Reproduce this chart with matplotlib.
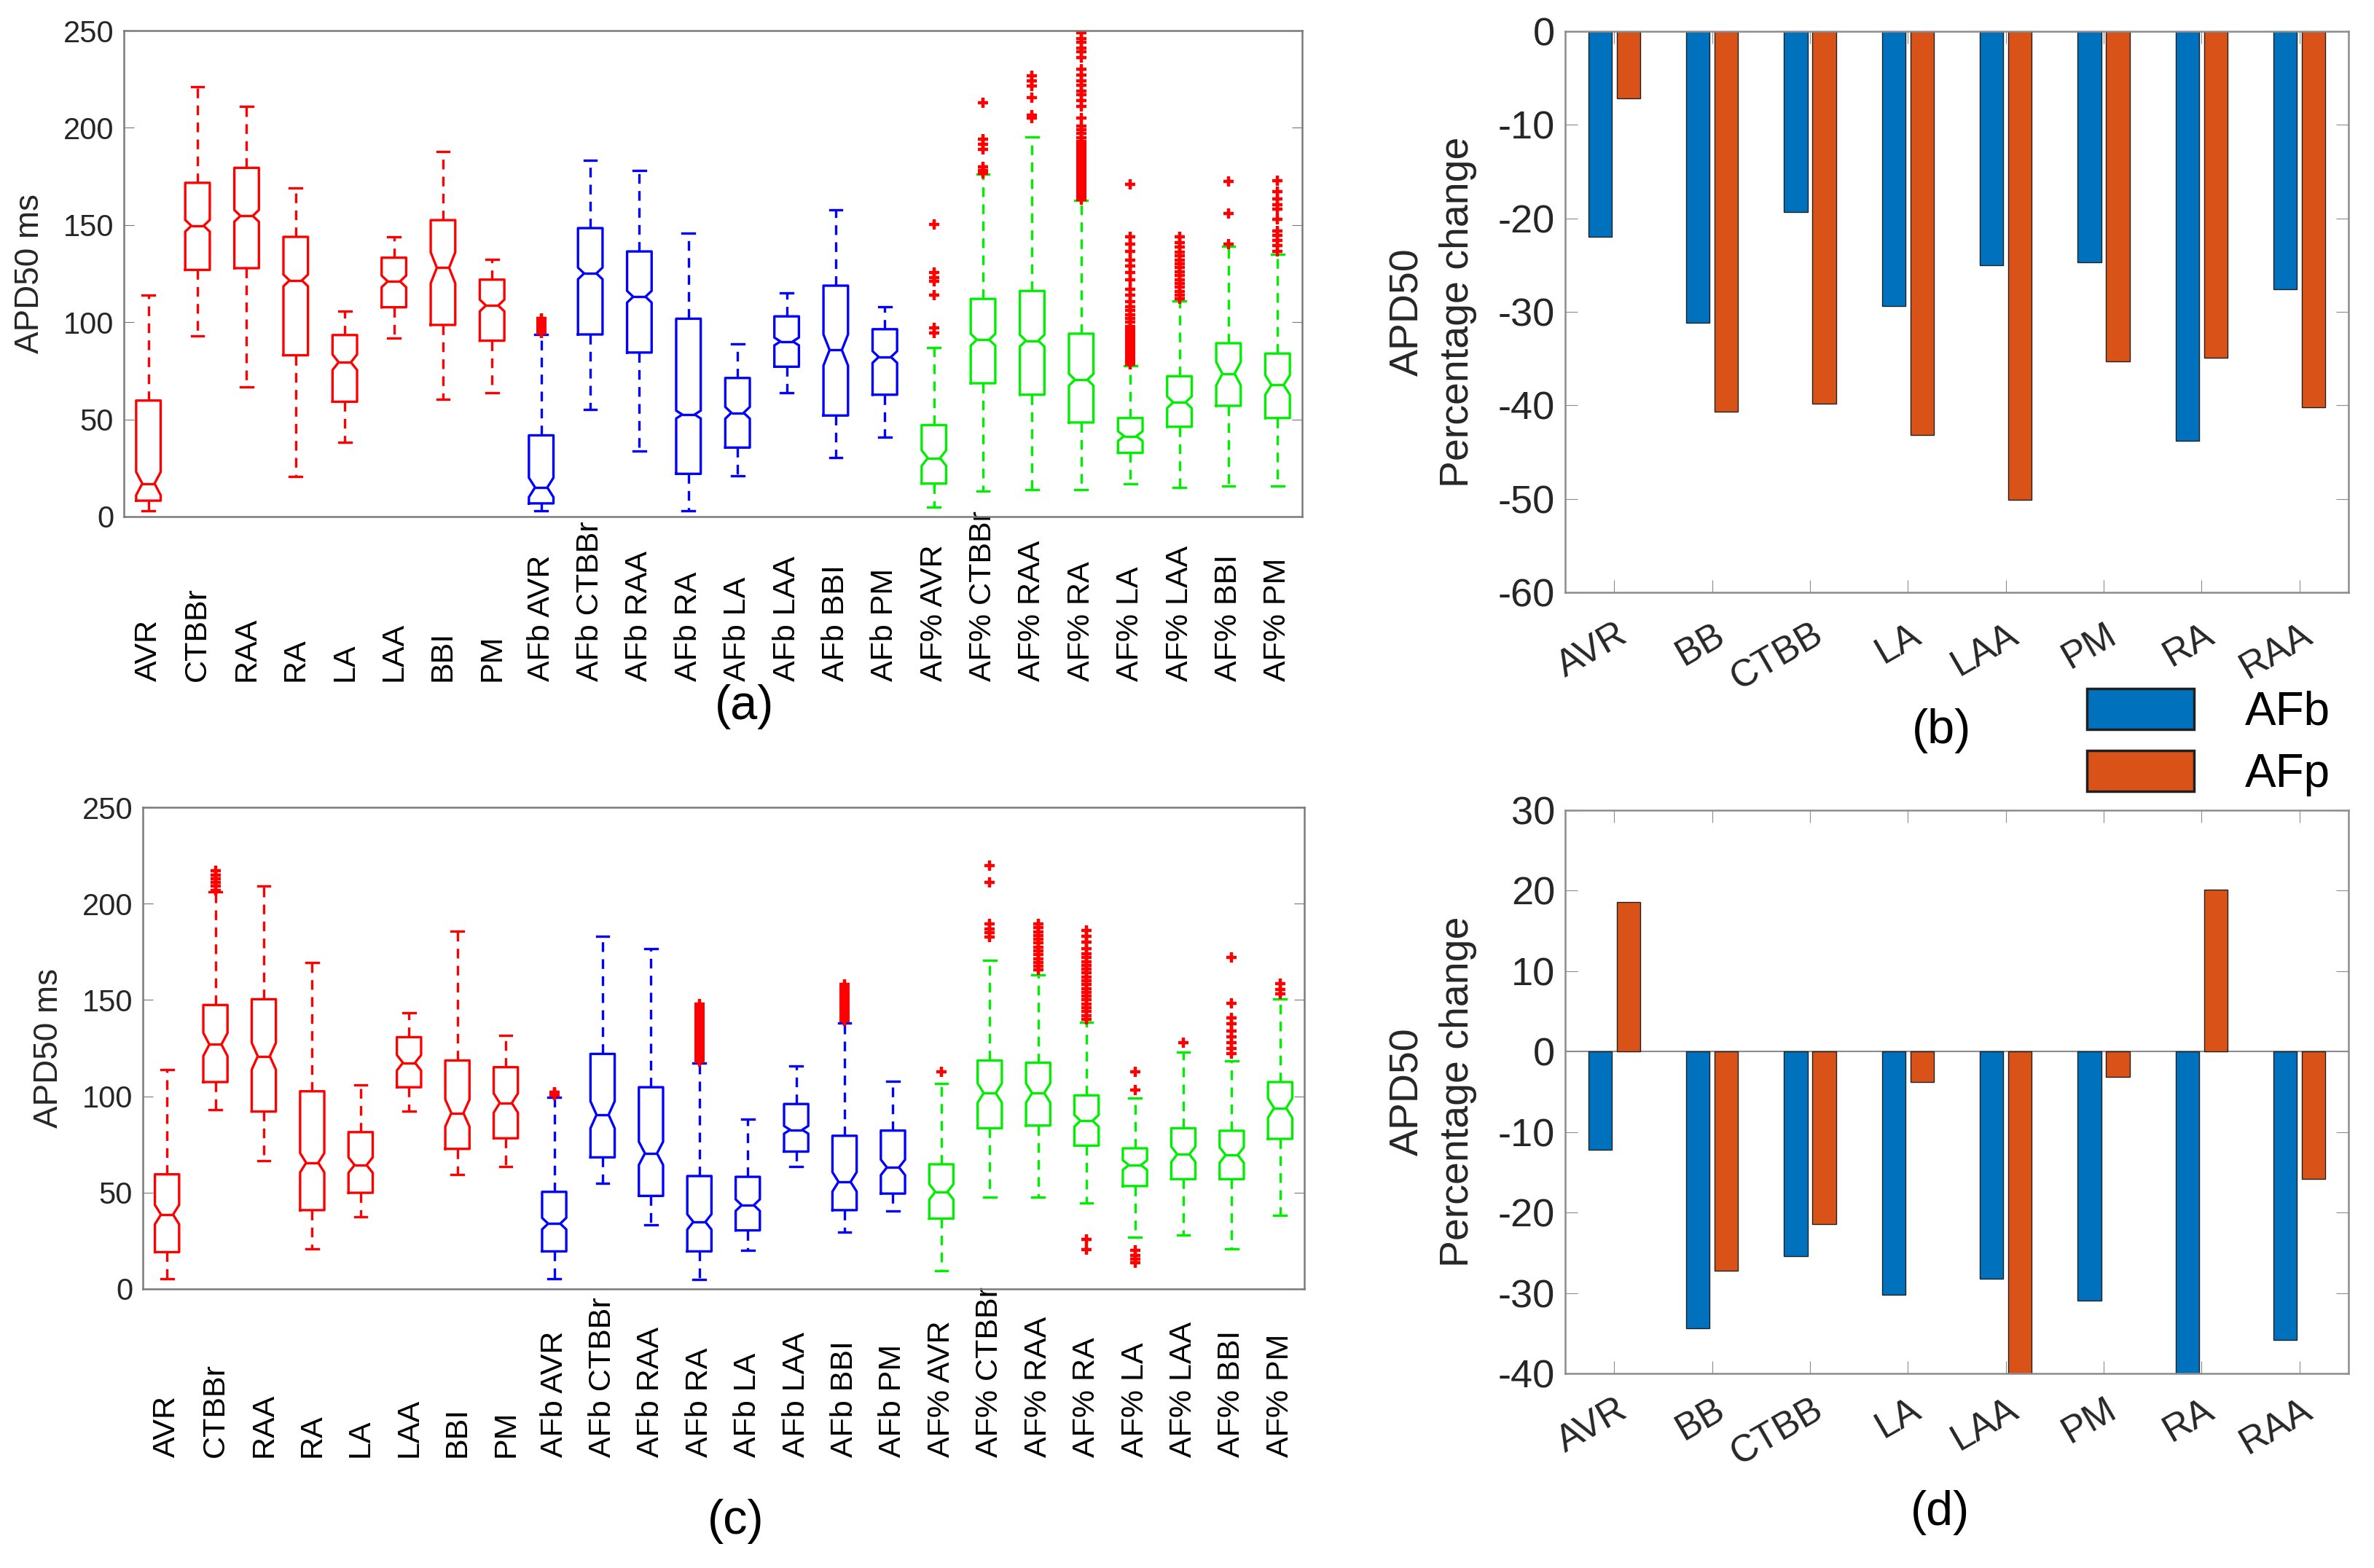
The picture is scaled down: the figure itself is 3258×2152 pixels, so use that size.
import numpy as np
import matplotlib.pyplot as plt
from matplotlib.transforms import ScaledTranslation

plt.rcParams['font.family'] = ['Liberation Sans', 'DejaVu Sans']
plt.rcParams['axes.unicode_minus'] = False

# ---- box plot data (panels a and c) ----
box_labels = ['AVR', 'CTBBr', 'RAA', 'RA', 'LA', 'LAA', 'BBI', 'PM',
              'AFb AVR', 'AFb CTBBr', 'AFb RAA', 'AFb RA', 'AFb LA', 'AFb LAA', 'AFb BBI', 'AFb PM',
              'AF% AVR', 'AF% CTBBr', 'AF% RAA', 'AF% RA', 'AF% LA', 'AF% LAA', 'AF% BBI', 'AF% PM']
group_colors = ['#ff0000', '#0000ff', '#00ee00']

a_lo = [2.9, 92.8, 66.8, 20.6, 38.2, 91.9, 60.2, 63.8,
        2.9, 55.2, 33.7, 2.9, 21.1, 63.8, 30.5, 40.9,
        5.0, 13.1, 14.0, 14.0, 16.7, 14.9, 15.8, 15.8]
a_q1 = [8.2, 126.9, 127.8, 83.0, 59.1, 107.7, 98.6, 90.5,
        6.8, 93.7, 84.4, 22.0, 35.5, 77.1, 52.0, 62.7,
        17.0, 68.6, 62.7, 48.4, 32.8, 46.2, 57.0, 50.7]
a_med = [17.0, 149.6, 154.7, 121.5, 79.4, 121.0, 128.0, 108.6,
         15.0, 125.1, 113.1, 52.5, 53.4, 90.1, 85.7, 82.1,
         30.1, 91.0, 90.5, 70.4, 41.4, 58.8, 73.5, 67.7]
a_q3 = [59.7, 171.7, 179.4, 143.9, 93.4, 133.2, 152.5, 121.9,
        41.8, 148.4, 136.4, 101.8, 71.3, 103.0, 118.8, 96.4,
        47.1, 112.0, 116.1, 94.1, 50.7, 72.2, 89.2, 83.9]
a_hi = [113.8, 221.0, 211.0, 169.0, 105.7, 143.9, 187.8, 132.3,
        93.7, 183.3, 178.0, 145.7, 88.7, 115.2, 157.7, 108.0,
        86.9, 176.2, 195.3, 162.7, 77.6, 110.8, 138.9, 134.9]
a_notch = [6, 3, 3, 3, 4, 3, 8, 3, 5, 3, 3, 2, 3, 2, 8, 3, 4, 3, 3, 3, 2.5, 3, 6, 5]
a_fliers = {
    8: [94.5, 96, 97.5, 99, 100.5, 102],
    16: [150.2, 125.5, 123, 121, 113.8, 97, 94.5],
    17: [213, 194, 191.5, 189, 180, 178, 176.5],
    18: [226.7, 224, 221.5, 215.6, 206.6, 205],
    19: [163, 164.5, 166, 167.5, 169, 170.5, 172, 173.5, 175, 176.5, 178, 179.5, 181, 182.5,
         184, 185.5, 187, 188.5, 190, 191.5, 193, 195, 197, 199, 201, 205, 211, 214, 217, 219,
         222, 224, 227, 230, 236, 239, 241, 244, 246, 249],
    20: [171, 144, 140, 136.5, 132, 129, 125.5, 122, 117, 114, 110.5, 108, 106, 104, 102, 100,
         98, 96.5, 95, 93.5, 92, 90.5, 89, 87.5, 86, 84.5, 83, 81.5, 80, 78.5],
    21: [143.9, 141, 138.5, 136, 134, 132, 130, 128, 126, 124, 122, 120, 118, 116, 114, 112],
    22: [172.6, 156.1, 140],
    23: [172.9, 167, 163.6, 160.5, 158, 152.9, 147, 144.8, 142, 139.4, 136.5],
}

c_lo = [5.2, 93.0, 66.4, 20.9, 37.4, 92.1, 59.5, 63.5,
        5.2, 54.8, 33.4, 4.9, 20.0, 63.5, 29.6, 40.3,
        9.6, 47.8, 47.8, 44.7, 27.0, 27.8, 20.9, 38.2]
c_q1 = [19.1, 107.4, 92.1, 40.9, 49.9, 104.7, 72.7, 78.2,
        19.5, 68.3, 48.3, 19.5, 30.4, 71.3, 40.9, 49.5,
        36.5, 83.4, 84.8, 74.4, 53.4, 57.0, 57.0, 77.9]
c_med = [38.6, 126.9, 120.8, 65.5, 64.3, 117.4, 91.3, 96.5,
         33.9, 90.4, 70.4, 34.8, 43.5, 82.6, 55.6, 63.1,
         50.4, 101.7, 101.7, 87.3, 64.3, 69.9, 69.5, 93.9]
c_q3 = [59.5, 147.4, 150.4, 102.6, 81.4, 130.7, 118.6, 115.1,
        50.4, 122.0, 104.7, 58.6, 58.2, 96.0, 79.5, 82.2,
        64.7, 118.6, 117.4, 100.5, 73.0, 83.4, 82.1, 107.4]
c_hi = [113.9, 206.0, 209.1, 169.5, 106.0, 143.4, 185.7, 131.8,
        99.4, 182.9, 176.5, 117.4, 88.3, 115.6, 138.2, 107.8,
        106.6, 170.4, 162.9, 138.6, 99.1, 123.1, 118.2, 150.7]
c_notch = [5, 6, 7, 5, 4, 4, 7, 5, 3, 7, 6, 4, 3, 2, 5, 4, 4, 5, 5, 3, 2.5, 4, 4, 5]
c_fliers = {
    1: [207, 209, 211, 213, 215, 217],
    8: [100.5, 101.5, 102],
    11: [118, 119.5, 121, 122.5, 124, 125.5, 127, 128.5, 130, 131.5, 133, 134.5, 136, 137.5,
         139, 140.5, 142, 143.5, 145, 146.5, 147.8],
    14: [139, 140.5, 142, 143.5, 145, 146.5, 148, 149.5, 151, 152.5, 154, 155.5, 157, 158.2],
    16: [112.7],
    17: [219.9, 210.9, 189.5, 187, 185, 182.5],
    18: [189.5, 187.5, 185.5, 183.5, 181.5, 179.5, 177.5, 175.5, 173.5, 171.5, 169.5, 167.5, 165.5],
    19: [186, 183, 180, 176.5, 174, 172, 170, 168, 166, 164, 162, 160, 158, 156, 154, 152, 150,
         148, 146, 144, 142, 140, 25.7, 20.5],
    20: [112.7, 103.4, 20, 17.5, 15.5, 13.5],
    21: [127.8],
    22: [172.1, 148.1, 140.8, 137.5, 134, 131, 128, 125, 122],
    23: [158.6, 155.5, 153],
}

# ---- bar data (panels b and d) ----
regions = ['AVR', 'BB', 'CTBB', 'LA', 'LAA', 'PM', 'RA', 'RAA']
b_afb = [-22.0, -31.2, -19.3, -29.4, -25.0, -24.7, -43.8, -27.6]
b_afp = [-7.2, -40.7, -39.8, -43.2, -50.1, -35.3, -34.9, -40.2]
d_afb = [-12.2, -34.4, -25.4, -30.2, -28.2, -30.9, -40.5, -35.8]
d_afp = [18.6, -27.2, -21.4, -3.8, -45.0, -3.1, 20.1, -15.8]

W, H = 3258, 2152
fig = plt.figure(figsize=(W / 100, H / 100), dpi=100)


def rect(l, t, r, b):
    return [l / W, 1 - b / H, (r - l) / W, (b - t) / H]


def draw_boxes(ax, lo, q1, med, q3, hi, notch, fliers, pad, labx):
    stats = []
    for i in range(len(med)):
        stats.append(dict(whislo=lo[i], q1=q1[i], med=med[i], q3=q3[i], whishi=hi[i],
                          cilo=med[i] - notch[i], cihi=med[i] + notch[i],
                          fliers=np.array(fliers.get(i, []))))
    pos = np.arange(1, len(med) + 1)
    for g, col in enumerate(group_colors):
        sl = slice(8 * g, 8 * g + 8)
        ax.bxp(stats[sl], positions=pos[sl], widths=0.5, capwidths=0.25, shownotches=True,
               boxprops=dict(color=col, lw=2.4), medianprops=dict(color=col, lw=2.4),
               whiskerprops=dict(color=col, lw=2.4, ls=(0, (4, 3))),
               capprops=dict(color=col, lw=2.4),
               flierprops=dict(marker='+', mec='#ff0000', mew=3.2, ms=10, ls='none'),
               manage_ticks=False)
    ax.set_xlim(0.5, 24.5)
    ax.set_ylim(0, 250)
    ax.set_yticks([0, 50, 100, 150, 200, 250])
    ax.tick_params(axis='y', direction='in', length=10, right=True, labelsize=30,
                   pad=10, colors='#777777', labelcolor='#262626')
    ax.tick_params(axis='x', length=0, pad=pad)
    ax.set_xticks(pos)
    ax.set_xticklabels(box_labels, rotation=90, va='bottom', ha='center', fontsize=31)
    for s in ax.spines.values():
        s.set_color('#7a7a7a')
        s.set_linewidth(1.8)
    ax.set_ylabel('APD50 ms', fontsize=33, color='#262626')
    ax.yaxis.set_label_coords(labx, 0.5)


def draw_bars(ax, afb, afp, ylim, yticks, pad):
    x = np.arange(1, len(regions) + 1)
    h1 = ax.bar(x - 0.145, afb, 0.24, color='#0072BD', edgecolor='#202020', lw=1.0, zorder=2)
    h2 = ax.bar(x + 0.145, afp, 0.24, color='#D95319', edgecolor='#202020', lw=1.0, zorder=2)
    ax.axhline(0, color='#8c8c8c', lw=1.5, zorder=1)
    ax.set_xlim(0.5, 8.5)
    ax.set_ylim(*ylim)
    ax.set_yticks(yticks)
    ax.set_xticks(x)
    ax.set_xticklabels(regions, rotation=30, ha='right', va='top', fontsize=37)
    ax.tick_params(direction='in', length=12, top=True, right=True, colors='#8c8c8c',
                   labelcolor='#262626')
    ax.tick_params(axis='y', labelsize=39, pad=10)
    ax.tick_params(axis='x', pad=pad)
    for lab in ax.get_xticklabels():
        lab.set_transform(lab.get_transform() + ScaledTranslation(0.26, 0, fig.dpi_scale_trans))
    for s in ax.spines.values():
        s.set_color('#8c8c8c')
        s.set_linewidth(1.8)
    ax.set_ylabel('APD50\nPercentage change', fontsize=40, linespacing=1.4, color='#262626')
    ax.yaxis.set_label_coords(-0.113, 0.5)
    return h1, h2


ax_a = fig.add_axes(rect(170, 42, 1787, 709))
draw_boxes(ax_a, a_lo, a_q1, a_med, a_q3, a_hi, a_notch, a_fliers, 163, -0.066)

ax_c = fig.add_axes(rect(196, 1108, 1790, 1769))
draw_boxes(ax_c, c_lo, c_q1, c_med, c_q3, c_hi, c_notch, c_fliers, 166, -0.067)

ax_b = fig.add_axes(rect(2148, 43, 3223, 813))
h1, h2 = draw_bars(ax_b, b_afb, b_afp, (-60, 0), np.arange(-60, 1, 10), 24)

ax_d = fig.add_axes(rect(2148, 1112, 3223, 1885))
draw_bars(ax_d, d_afb, d_afp, (-40, 30), np.arange(-40, 31, 10), 18)

leg = fig.legend([h1, h2], ['AFb', 'AFp'], loc='upper left',
                 bbox_to_anchor=(2864 / W, 1 - 945 / H),
                 fontsize=46, handlelength=2.3, handleheight=0.97, labelspacing=0.35,
                 handletextpad=1.1, borderpad=0, borderaxespad=0, frameon=False)
for hnd in leg.legend_handles:
    hnd.set_linewidth(2.5)

for txt, x, y in [('(a)', 1022, 970), ('(b)', 2665, 1003), ('(c)', 1010, 2088), ('(d)', 2662, 2076)]:
    fig.text(x / W, 1 - y / H, txt, fontsize=48, ha='center', va='center')

fig.savefig('out.png', dpi=100)
